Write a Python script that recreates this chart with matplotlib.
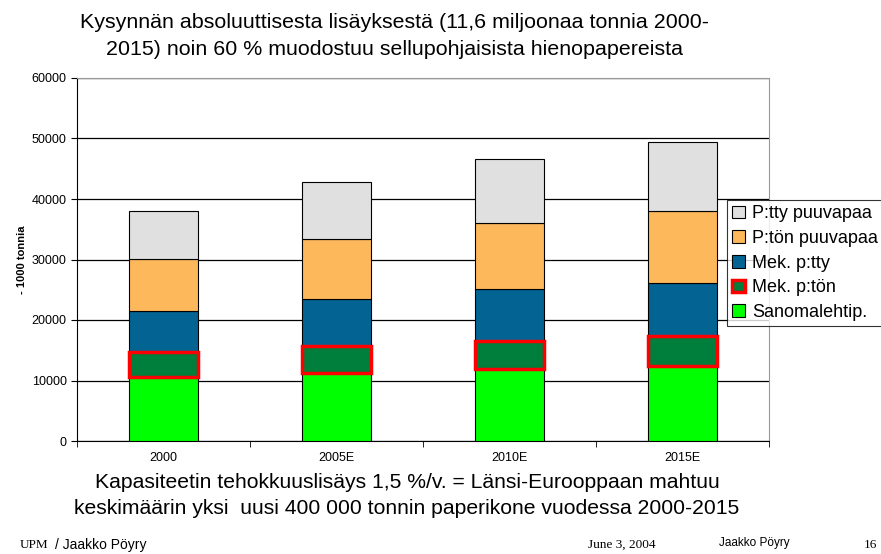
from matplotlib import pyplot as plt
from matplotlib.patches import Patch
import numpy as np

plt.rcParams['font.family'] = ['Liberation Sans', 'DejaVu Sans']

#################################
# Data (1000 tonnia)
years = ['2000', '2005E', '2010E', '2015E']
sanomalehtip = [10530, 11190, 11900, 12450]
mek_pton = [4130, 4570, 4680, 4910]
mek_ptty = [6830, 7710, 8540, 8810]
pton_puuvapaa = [8590, 9870, 10860, 11900]
ptty_puuvapaa = [7990, 9460, 10630, 11400]
#################################

fig = plt.figure(figsize=[8.81, 5.54], dpi=100)
ax = fig.add_axes([77/881, 1-441/554, 692/881, 363/554])

x = np.arange(len(years))
w = 0.4
series = [
    (sanomalehtip, '#00FF00', 'black', 0.8, 'Sanomalehtip.'),
    (mek_pton, '#007E3C', '#FF0000', 2.5, 'Mek. p:tön'),
    (mek_ptty, '#036494', 'black', 0.8, 'Mek. p:tty'),
    (pton_puuvapaa, '#FDB85B', 'black', 0.8, 'P:tön puuvapaa'),
    (ptty_puuvapaa, '#E0E0E0', 'black', 0.8, 'P:tty puuvapaa'),
]
bottom = np.zeros(len(years))
handles = []
for vals, fc, ec, lw, lab in series:
    ax.bar(x, vals, w, bottom=bottom, color=fc, edgecolor=ec, lw=lw, zorder=3 if ec == 'black' else 4)
    bottom += np.array(vals)
    handles.append(Patch(facecolor=fc, edgecolor=ec, lw=lw if ec != 'black' else 0.8, label=lab))

ax.set_xlim(-0.5, len(years) - 0.5)
ax.set_ylim(0, 60000)
ax.set_yticks(np.arange(0, 60001, 10000))
ax.set_xticks(x)
ax.set_xticklabels(years, fontsize=9)
ax.set_xticks(np.arange(-0.5, len(years), 1), minor=True)
ax.tick_params(axis='x', which='major', length=0, pad=8)
ax.tick_params(axis='x', which='minor', length=4, direction='out')
ax.tick_params(axis='y', labelsize=9, length=4, direction='out')
ax.grid(axis='y', color='black', lw=0.9, zorder=0)
for s in ['top', 'right']:
    ax.spines[s].set_color('#999999')
ax.set_ylabel('- 1000 tonnia', fontsize=8, fontweight='bold', labelpad=3)

leg = fig.legend(handles=handles[::-1], loc='upper left', bbox_to_anchor=(727/881, 1-200/554),
                 fontsize=13, frameon=True, fancybox=False, edgecolor='black',
                 handlelength=0.7, handleheight=0.7, handletextpad=0.4,
                 labelspacing=0.42, borderpad=0.3, borderaxespad=0)
leg.get_frame().set_linewidth(0.8)

fig.text(395/881, 1-28/554, 'Kysynnän absoluuttisesta lisäyksestä (11,6 miljoonaa tonnia 2000-',
         ha='center', va='baseline', fontsize=15.4)
fig.text(395/881, 1-55/554, '2015) noin 60 % muodostuu sellupohjaisista hienopapereista',
         ha='center', va='baseline', fontsize=15.4)
fig.text(407/881, 1-488/554, 'Kapasiteetin tehokkuuslisäys 1,5 %/v. = Länsi-Eurooppaan mahtuu',
         ha='center', va='baseline', fontsize=15.2)
fig.text(407/881, 1-514/554, 'keskimäärin yksi  uusi 400 000 tonnin paperikone vuodessa 2000-2015',
         ha='center', va='baseline', fontsize=15.2)

fig.text(20/881, 1-545/554, 'UPM', family='Liberation Serif', fontsize=9.5, va='center')
fig.text(55/881, 1-545/554, '/ Jaakko Pöyry', fontsize=10, va='center')
fig.text(588/881, 1-545/554, 'June 3, 2004', family='Liberation Serif', fontsize=9.5, va='center')
fig.text(719/881, 1-543/554, 'Jaakko Pöyry', fontsize=8.5, va='center')
fig.text(864/881, 1-545/554, '16', family='Liberation Serif', fontsize=9.5, va='center')

plt.savefig('out.png', dpi=100)
